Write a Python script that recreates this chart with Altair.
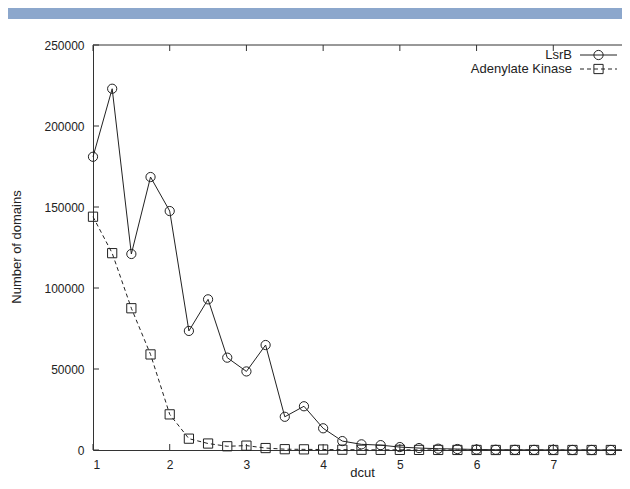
import altair as alt
import pandas as pd

dcut = [1.0, 1.25, 1.5, 1.75, 2.0, 2.25, 2.5, 2.75, 3.0, 3.25, 3.5, 3.75, 4.0, 4.25,
        4.5, 4.75, 5.0, 5.25, 5.5, 5.75, 6.0, 6.25, 6.5, 6.75, 7.0, 7.25, 7.5, 7.75, 8.0]
lsrb = [181000, 223000, 121000, 168500, 147500, 73500, 93000, 57000, 48500, 64800,
        20500, 27000, 13400, 5500, 3500, 3000, 1800, 1200, 800, 600, 300, 150, 100,
        80, 50, 30, 20, 10, 10]
adk = [144000, 121500, 87500, 59000, 22000, 7000, 4000, 2300, 2700, 1200, 500, 400,
       300, 200, 150, 100, 80, 60, 40, 30, 20, 10, 10, 5, 5, 5, 0, 0, 0]
series_names = ["LsrB", "Adenylate Kinase"]
x_ticks = [1, 2, 3, 4, 5, 6, 7, 8]
x_labels = [1, 2, 3, 4, 5, 6, 7]
y_ticks = [0, 50000, 100000, 150000, 200000, 250000]

W_FULL = 537   # full plot width (right border lies just beyond the picture)
W = 529        # visible part of the plot area
H = 405
INK = "#222222"
EDGE = "#333333"
FONT = "Liberation Sans"

df = pd.DataFrame({
    "dcut": dcut * 2,
    "count": lsrb + adk,
    "series": [series_names[0]] * len(dcut) + [series_names[1]] * len(dcut),
})

xs = alt.Scale(domain=[1, 8], range=[0, W_FULL], nice=False, zero=False)
ys = alt.Scale(domain=[0, 250000], nice=False)

x_enc = alt.X("dcut:Q", scale=xs, title="dcut",
              axis=alt.Axis(values=x_labels, format="d", ticks=False, domain=True,
                            domainColor=EDGE, domainWidth=1,
                            grid=False, labelPadding=9, titleX=269, titleY=29,
                            titleBaseline="bottom", titleAlign="center"))
y_enc = alt.Y("count:Q", scale=ys, title="Number of domains",
              axis=alt.Axis(values=y_ticks, format="d", ticks=False, domain=True,
                            domainColor=EDGE, domainWidth=1,
                            grid=False, labelPadding=9, titleX=-77, titleY=201.5,
                            titleAngle=-90, titleAlign="center", titleBaseline="middle"))

base = alt.Chart(df)

line_l = base.transform_filter(alt.datum.series == series_names[0]).mark_line(
    color=INK, strokeWidth=1).encode(x=x_enc, y=y_enc)
line_a = base.transform_filter(alt.datum.series == series_names[1]).mark_line(
    color=INK, strokeWidth=1, strokeDash=[4, 3]).encode(x="dcut:Q", y="count:Q")
pts_l = base.transform_filter(alt.datum.series == series_names[0]).mark_point(
    shape="circle", filled=False, color=INK, strokeWidth=1, size=85, opacity=1
).encode(x="dcut:Q", y="count:Q")
pts_a = base.transform_filter(alt.datum.series == series_names[1]).mark_point(
    shape="square", filled=False, color=INK, strokeWidth=1, size=85, opacity=1
).encode(x="dcut:Q", y="count:Q")

xt = pd.DataFrame({"dcut": x_ticks})
yt = pd.DataFrame({"count": y_ticks})
tick_style = dict(color=EDGE, strokeWidth=1)
xt_bot = alt.Chart(xt).mark_rule(**tick_style).encode(
    x="dcut:Q", y=alt.value(H - 6), y2=alt.value(H))
xt_top = alt.Chart(xt).mark_rule(**tick_style).encode(
    x="dcut:Q", y=alt.value(0), y2=alt.value(6))
yt_left = alt.Chart(yt).mark_rule(**tick_style).encode(
    y="count:Q", x=alt.value(0), x2=alt.value(6))
top_border = alt.Chart(pd.DataFrame({"b": [0]})).mark_rule(**tick_style).encode(
    x=alt.value(0), x2=alt.value(W_FULL), y=alt.value(0))

# legend (gnuplot style: text on the left, sample on the right)
leg_layers = []
for i, name in enumerate(series_names):
    ld = pd.DataFrame({"name": [name]})
    yy = 10 + 14 * i
    leg_layers.append(alt.Chart(ld).mark_text(
        align="right", baseline="middle", font=FONT, fontSize=13, color=INK
    ).encode(text="name:N", x=alt.value(479), y=alt.value(yy)))
    rule_kw = dict(color=INK, strokeWidth=1)
    if i == 1:
        rule_kw["strokeDash"] = [4, 3]
    leg_layers.append(alt.Chart(ld).mark_rule(**rule_kw).encode(
        x=alt.value(487), x2=alt.value(524), y=alt.value(yy)))
    leg_layers.append(alt.Chart(ld).mark_point(
        shape="circle" if i == 0 else "square", filled=False, color=INK,
        strokeWidth=1, size=85, opacity=1
    ).encode(x=alt.value(505.5), y=alt.value(yy)))

band = alt.Chart(pd.DataFrame({"b": [0]})).mark_rect(color="#8CA7CC").encode(
    x=alt.value(-85), x2=alt.value(W_FULL), y=alt.value(-37), y2=alt.value(-26))

chart = alt.layer(
    line_l, line_a, pts_l, pts_a, xt_bot, xt_top, yt_left, top_border, band,
    *leg_layers
).properties(
    width=W, height=H,
    padding={"left": 85, "top": 37, "right": 0, "bottom": 30},
    autosize=alt.AutoSizeParams(type="none"),
    background="white",
).configure_view(
    strokeWidth=0
).configure_axis(
    labelFont=FONT, labelFontSize=12, labelColor=INK,
    titleFont=FONT, titleFontSize=13, titleColor=INK, titleFontWeight="normal",
)

chart.save("out.html", embed_options={"renderer": "svg", "actions": False})
